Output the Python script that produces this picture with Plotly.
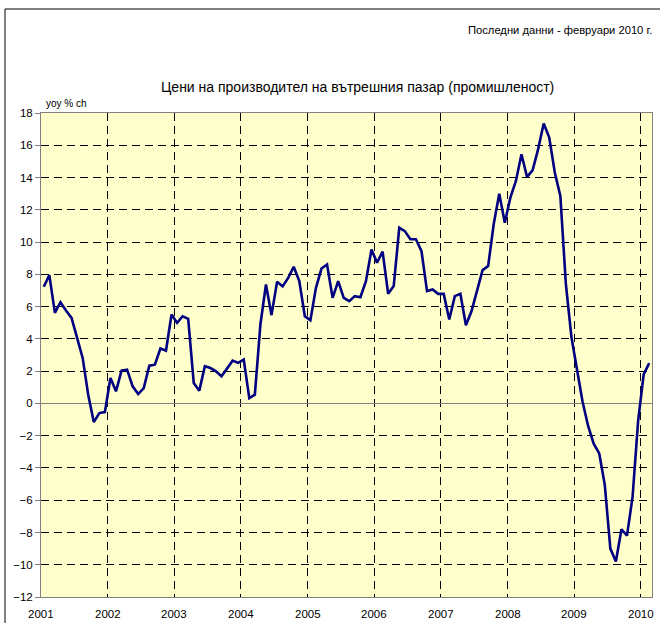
import plotly.graph_objects as go

# Monthly yoy % change, Jan 2001 - Feb 2010
v2001 = [7.23, 7.95, 5.61, 6.27, 5.76, 5.30, 4.06, 2.82, 0.54, -1.16, -0.60, -0.54]
v2002 = [1.57, 0.75, 2.03, 2.09, 1.06, 0.58, 0.95, 2.34, 2.40, 3.40, 3.27, 5.51]
v2003 = [4.99, 5.40, 5.24, 1.26, 0.79, 2.30, 2.19, 1.99, 1.68, 2.19, 2.65, 2.51]
v2004 = [2.71, 0.33, 0.54, 4.89, 7.37, 5.47, 7.54, 7.25, 7.78, 8.47, 7.58, 5.40]
v2005 = [5.16, 7.16, 8.36, 8.61, 6.54, 7.58, 6.54, 6.34, 6.65, 6.58, 7.58, 9.54]
v2006 = [8.72, 9.41, 6.79, 7.27, 10.89, 10.68, 10.17, 10.17, 9.44, 6.96, 7.06, 6.79]
v2007 = [6.79, 5.20, 6.65, 6.79, 4.84, 5.71, 7.06, 8.26, 8.51, 11.10, 13.00, 11.20]
v2008 = [12.75, 13.79, 15.44, 14.04, 14.45, 15.76, 17.35, 16.48, 14.31, 12.86, 7.37, 4.10]
v2009 = [2.10, 0.10, -1.40, -2.50, -3.10, -5.05, -9.00, -9.80, -7.80, -8.20, -5.80, -1.10]
v2010 = [1.80, 2.50]

years = ["2001", "2002", "2003", "2004", "2005", "2006", "2007", "2008", "2009", "2010"]
values = v2001 + v2002 + v2003 + v2004 + v2005 + v2006 + v2007 + v2008 + v2009 + v2010
idx = list(range(len(values)))

title_text = "Цени на производител на вътрешния пазар (промишленост)"
note_text = "Последни данни - февруари 2010 г."
unit_text = "yoy % ch"

FONT = "Liberation Sans, Arial, sans-serif"

W, H = 660, 623
L, R, T, B = 41, 8, 113, 26
pw = W - L - R
ph = H - T - B

def px(x):
    return (x - L) / pw

def py(y):
    return (H - B - y) / ph

fig = go.Figure()
fig.add_trace(go.Scatter(
    x=idx, y=values, mode="lines",
    line=dict(color="#000080", width=2.6),
    hoverinfo="y", showlegend=False,
))

tickpos = [-0.5 + 12 * k for k in range(len(years))]

year_labels = [
    dict(text=yr, xref="x", yref="paper", x=tp, y=py(614),
         xanchor="center", yanchor="middle", showarrow=False,
         font=dict(family=FONT, size=11.5))
    for yr, tp in zip(years, tickpos)
]

fig.update_layout(
    width=W, height=H,
    margin=dict(l=L, r=R, t=T, b=B, pad=0),
    paper_bgcolor="white",
    plot_bgcolor="#FFFFCC",
    font=dict(family=FONT, size=11, color="black"),
    showlegend=False,
    xaxis=dict(
        range=[-0.5, len(values) - 0.5],
        tickmode="array", tickvals=tickpos, ticktext=years,
        showticklabels=False,
        showgrid=True, gridcolor="black", gridwidth=1, griddash="8px,5px",
        showline=True, linecolor="#808080", linewidth=1, mirror=True,
        ticks="", zeroline=False,
    ),
    yaxis=dict(
        range=[-12, 18], dtick=2, tick0=0,
        showgrid=True, gridcolor="black", gridwidth=1, griddash="8px,5px",
        showline=True, linecolor="#808080", linewidth=1, mirror=True,
        ticks="outside", ticklen=5, tickcolor="#808080",
        zeroline=True, zerolinecolor="#808080", zerolinewidth=1,
        tickfont=dict(family=FONT, size=11.5),
    ),
    shapes=[
        dict(type="rect", xref="paper", yref="paper",
             x0=px(5), x1=px(700), y0=py(700), y1=py(9),
             line=dict(color="black", width=1), fillcolor="rgba(0,0,0,0)",
             layer="below"),
    ],
    annotations=[
        dict(text=title_text, xref="paper", yref="paper",
             x=px(357), y=py(87), xanchor="center", yanchor="middle",
             showarrow=False, font=dict(family=FONT, size=14)),
        dict(text=note_text, xref="paper", yref="paper",
             x=px(654), y=py(30), xanchor="right", yanchor="middle",
             showarrow=False, font=dict(family=FONT, size=11.2)),
        dict(text=unit_text, xref="paper", yref="paper",
             x=px(44), y=py(104), xanchor="left", yanchor="middle",
             showarrow=False, font=dict(family=FONT, size=10)),
    ] + year_labels,
)

fig.write_html(
    "out.html",
    config={"displayModeBar": False},
    post_script="document.body.style.margin='0';document.body.style.overflow='hidden';",
)
